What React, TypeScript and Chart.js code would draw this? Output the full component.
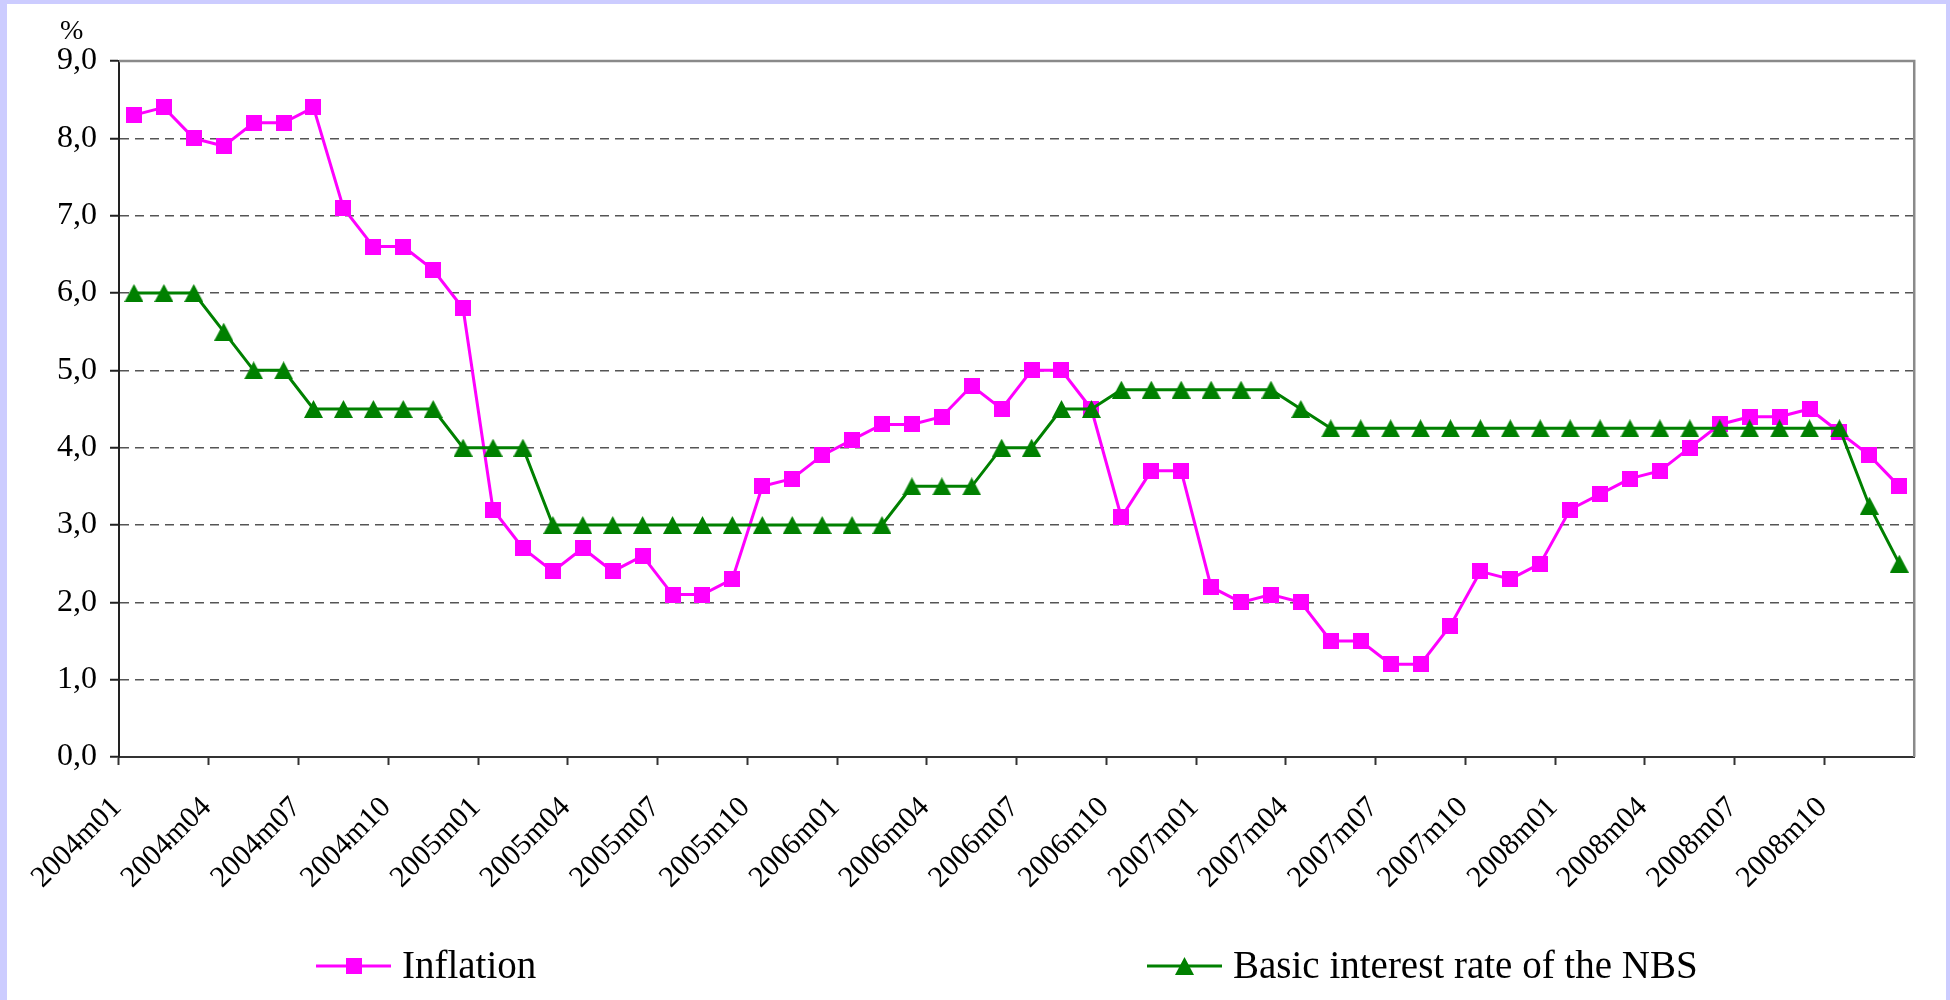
import React, { useEffect, useRef } from 'react';
import { Chart, registerables } from 'chart.js';

Chart.register(...registerables);

// Monthly categories, 2004m01 .. 2008m12
const CATEGORIES: string[] = [
  '2004m01', '2004m02', '2004m03', '2004m04', '2004m05', '2004m06',
  '2004m07', '2004m08', '2004m09', '2004m10', '2004m11', '2004m12',
  '2005m01', '2005m02', '2005m03', '2005m04', '2005m05', '2005m06',
  '2005m07', '2005m08', '2005m09', '2005m10', '2005m11', '2005m12',
  '2006m01', '2006m02', '2006m03', '2006m04', '2006m05', '2006m06',
  '2006m07', '2006m08', '2006m09', '2006m10', '2006m11', '2006m12',
  '2007m01', '2007m02', '2007m03', '2007m04', '2007m05', '2007m06',
  '2007m07', '2007m08', '2007m09', '2007m10', '2007m11', '2007m12',
  '2008m01', '2008m02', '2008m03', '2008m04', '2008m05', '2008m06',
  '2008m07', '2008m08', '2008m09', '2008m10', '2008m11', '2008m12',
];

// Inflation, %
const INFLATION: number[] = [
  8.3, 8.4, 8.0, 7.9, 8.2, 8.2, 8.4, 7.1, 6.6, 6.6, 6.3, 5.8,
  3.2, 2.7, 2.4, 2.7, 2.4, 2.6, 2.1, 2.1, 2.3, 3.5, 3.6, 3.9,
  4.1, 4.3, 4.3, 4.4, 4.8, 4.5, 5.0, 5.0, 4.5, 3.1, 3.7, 3.7,
  2.2, 2.0, 2.1, 2.0, 1.5, 1.5, 1.2, 1.2, 1.7, 2.4, 2.3, 2.5,
  3.2, 3.4, 3.6, 3.7, 4.0, 4.3, 4.4, 4.4, 4.5, 4.2, 3.9, 3.5,
];

// Basic interest rate of the NBS, %
const BASE_RATE: number[] = [
  6.0, 6.0, 6.0, 5.5, 5.0, 5.0, 4.5, 4.5, 4.5, 4.5, 4.5, 4.0,
  4.0, 4.0, 3.0, 3.0, 3.0, 3.0, 3.0, 3.0, 3.0, 3.0, 3.0, 3.0,
  3.0, 3.0, 3.5, 3.5, 3.5, 4.0, 4.0, 4.5, 4.5, 4.75, 4.75, 4.75,
  4.75, 4.75, 4.75, 4.5, 4.25, 4.25, 4.25, 4.25, 4.25, 4.25, 4.25, 4.25,
  4.25, 4.25, 4.25, 4.25, 4.25, 4.25, 4.25, 4.25, 4.25, 4.25, 3.25, 2.5,
];

const SERIES_NAMES: string[] = ['Inflation', 'Basic interest rate of the NBS'];
const LABEL_EVERY = 3;

const SERIF = '"Liberation Serif", "Times New Roman", serif';
const MAGENTA = '#ff00ff';
const GREEN = '#008000';

function squareMarker(size: number, color: string): HTMLCanvasElement {
  const c = document.createElement('canvas');
  c.width = size;
  c.height = size;
  const g = c.getContext('2d')!;
  g.fillStyle = color;
  g.fillRect(0, 0, size, size);
  return c;
}

function triangleMarker(w: number, h: number, color: string): HTMLCanvasElement {
  const c = document.createElement('canvas');
  c.width = w;
  c.height = h;
  const g = c.getContext('2d')!;
  g.fillStyle = color;
  g.beginPath();
  g.moveTo(w / 2, 0);
  g.lineTo(w, h);
  g.lineTo(0, h);
  g.closePath();
  g.fill();
  return c;
}

// Page background, plot frame, unit label and the line+marker legend
const framePlugin = {
  id: 'frame',
  beforeDraw(chart: any) {
    const { ctx, width, height } = chart;
    ctx.save();
    ctx.fillStyle = '#ccccff';
    ctx.fillRect(0, 0, width, height);
    ctx.fillStyle = '#ffffff';
    ctx.fillRect(7, 4, width - 11, height - 4);
    ctx.restore();
  },
  beforeDatasetsDraw(chart: any) {
    const { ctx, chartArea: a } = chart;
    ctx.save();
    ctx.strokeStyle = '#8a8a8a';
    ctx.lineWidth = 2.5;
    ctx.beginPath();
    ctx.moveTo(a.left, a.top);
    ctx.lineTo(a.right, a.top);
    ctx.lineTo(a.right, a.bottom);
    ctx.stroke();

    ctx.fillStyle = '#000000';
    ctx.font = `28px ${SERIF}`;
    ctx.textAlign = 'left';
    ctx.textBaseline = 'alphabetic';
    ctx.fillText('%', a.left - 59, a.top - 22);
    ctx.restore();
  },
  afterDraw(chart: any) {
    const { ctx, chartArea: a } = chart;
    const starts = [a.left + 197, a.left + 1028];
    const lineLen = 75;
    const y = a.bottom + 209;
    ctx.save();
    chart.data.datasets.forEach((ds: any, i: number) => {
      const x0 = starts[i];
      ctx.strokeStyle = ds.borderColor;
      ctx.lineWidth = 3;
      ctx.beginPath();
      ctx.moveTo(x0, y);
      ctx.lineTo(x0 + lineLen, y);
      ctx.stroke();
      const m = ds.pointStyle as HTMLCanvasElement;
      ctx.drawImage(m, x0 + lineLen / 2 - m.width / 2, y - m.height / 2);
      ctx.fillStyle = '#000000';
      ctx.font = `39px ${SERIF}`;
      ctx.textAlign = 'left';
      ctx.textBaseline = 'middle';
      ctx.fillText(ds.label, x0 + lineLen + 11, y + 2);
    });
    ctx.restore();
  },
};

export default function App() {
  const canvasRef = useRef<HTMLCanvasElement | null>(null);

  useEffect(() => {
    document.body.style.margin = '0';
    document.body.style.overflow = 'hidden';
    const canvas = canvasRef.current;
    if (!canvas) return;

    const square = squareMarker(16, MAGENTA);
    const triangle = triangleMarker(19, 18, GREEN);

    const chart = new Chart(canvas, {
      type: 'line',
      data: {
        labels: CATEGORIES,
        datasets: [
          {
            label: SERIES_NAMES[0],
            data: INFLATION,
            borderColor: MAGENTA,
            backgroundColor: MAGENTA,
            borderWidth: 3,
            pointStyle: square as any,
            pointRadius: 8,
            tension: 0,
            order: 1,
          },
          {
            label: SERIES_NAMES[1],
            data: BASE_RATE,
            borderColor: GREEN,
            backgroundColor: GREEN,
            borderWidth: 3,
            pointStyle: triangle as any,
            pointRadius: 8,
            tension: 0,
            order: 0,
          },
        ],
      },
      options: {
        responsive: false,
        animation: false,
        devicePixelRatio: 1,
        layout: { padding: { top: 61, right: 32, left: 0, bottom: 0 } },
        plugins: {
          legend: { display: false },
          tooltip: { enabled: false },
          title: { display: false },
        },
        scales: {
          x: {
            type: 'category',
            offset: true,
            afterFit(scale: any) {
              scale.height = 243;
            },
            grid: {
              offset: true,
              drawOnChartArea: false,
              drawTicks: true,
              tickLength: 8,
              tickWidth: 2,
              tickColor: (ctx: any) => (ctx.index % LABEL_EVERY === 0 ? '#333333' : 'rgba(0,0,0,0)'),
            },
            border: { display: true, color: '#333333', width: 2 },
            ticks: {
              autoSkip: false,
              maxRotation: 45,
              minRotation: 45,
              labelOffset: -17,
              padding: 25,
              color: '#000000',
              font: { family: SERIF, size: 30 },
              callback: (_v: any, i: number) => (i % LABEL_EVERY === 0 ? CATEGORIES[i] : ''),
            },
          },
          y: {
            min: 0,
            max: 9,
            afterFit(scale: any) {
              scale.width = 119;
            },
            grid: {
              drawTicks: true,
              tickLength: 9,
              tickWidth: 2,
              tickColor: '#222222',
              lineWidth: 1.5,
              color: (ctx: any) =>
                ctx.tick && (ctx.tick.value === 0 || ctx.tick.value === 9) ? 'rgba(0,0,0,0)' : '#555555',
            },
            border: { display: true, color: '#222222', width: 2, dash: [9, 6] },
            ticks: {
              stepSize: 1,
              padding: 13,
              color: '#000000',
              font: { family: SERIF, size: 32 },
              callback: (v: any) => Number(v).toFixed(1).replace('.', ','),
            },
          },
        },
      },
      plugins: [framePlugin],
    });

    return () => chart.destroy();
  }, []);

  return (
    <div style={{ width: 1950, height: 1000 }}>
      <canvas ref={canvasRef} width={1950} height={1000} style={{ display: 'block' }} />
    </div>
  );
}
